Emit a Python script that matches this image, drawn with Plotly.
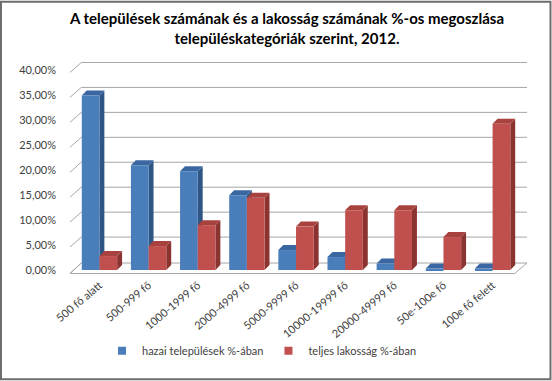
import plotly.graph_objects as go

categories = ["500 fő alatt", "500-999 fő", "1000-1999 fő", "2000-4999 fő", "5000-9999 fő",
              "10000-19999 fő", "20000-49999 fő", "50e-100e fő", "100e fő felett"]
telepulesek = [0.350, 0.210, 0.198, 0.150, 0.040, 0.026, 0.013, 0.003, 0.003]
lakossag = [0.028, 0.048, 0.090, 0.145, 0.087, 0.120, 0.120, 0.066, 0.293]
series_names = ["hazai települések %-ában", "teljes lakosság %-ában"]
y_ticks = [0.0, 0.05, 0.10, 0.15, 0.20, 0.25, 0.30, 0.35, 0.40]

W, H = 552, 381
L, R, T, B = 69, 25, 57.5, 105
X_RANGE = [-0.62, 8.70]
Y_RANGE = [-0.012, 0.425]
plot_w = W - L - R
plot_h = H - T - B

def px_to_paper_x(px):
    return (px - L) / plot_w

def px_to_paper_y(py):
    return (H - B - py) / plot_h

BAR_W = 0.36
DX, DY = 0.10, 0.010
colors = {
    0: dict(front="#4a7ebb", top="#3a66a2", side="#2f5584"),
    1: dict(front="#c0504d", top="#a8423f", side="#8a3331"),
}

fig = go.Figure()
idx = list(range(len(categories)))
for s, (vals, off) in enumerate([(telepulesek, -BAR_W), (lakossag, 0.0)]):
    fig.add_trace(go.Bar(
        x=idx, y=vals, name=series_names[s], offset=off, width=BAR_W,
        marker=dict(color=colors[s]["front"], line=dict(width=0)),
        hovertemplate="%{y:.1%}<extra></extra>", showlegend=False,
    ))
# legend entries with small square swatches
for s in range(2):
    fig.add_trace(go.Scatter(
        x=[None], y=[None], mode="markers", name=series_names[s],
        marker=dict(symbol="square", size=8, color=colors[s]["front"]),
        showlegend=True,
    ))

shapes = []
# floor
shapes.append(dict(type="path", xref="x", yref="y", layer="below",
                   path="M -0.60 -0.007 L 8.45 -0.007 L 8.70 0.014 L -0.37 0.014 Z",
                   fillcolor="white", line=dict(color="#a6a6a6", width=1)))
# back wall gridlines + left-wall slants
for v in y_ticks:
    if v == 0:
        continue
    shapes.append(dict(type="path", xref="x", yref="y", layer="below",
                       path=f"M -0.60 {v-0.004} L -0.37 {v+0.016} L 8.70 {v+0.016}",
                       line=dict(color="#a6a6a6", width=1)))
shapes.append(dict(type="line", xref="x", yref="y", layer="below",
                   x0=-0.60, y0=-0.007, x1=-0.37, y1=0.014,
                   line=dict(color="#a6a6a6", width=1)))

# 3D faces derived from the data
for s, (vals, off) in enumerate([(telepulesek, -BAR_W), (lakossag, 0.0)]):
    for i, v in zip(idx, vals):
        x0 = i + off
        x1 = x0 + BAR_W
        shapes.append(dict(type="path", xref="x", yref="y", layer="between",
                           path=f"M {x1} 0 L {x1+DX} {DY} L {x1+DX} {v+DY} L {x1} {v} Z",
                           fillcolor=colors[s]["side"], line=dict(width=0)))
        shapes.append(dict(type="path", xref="x", yref="y", layer="between",
                           path=f"M {x0} {v} L {x0+DX} {v+DY} L {x1+DX} {v+DY} L {x1} {v} Z",
                           fillcolor=colors[s]["top"], line=dict(width=0)))

# outer frame
shapes.append(dict(type="rect", xref="paper", yref="paper", layer="above",
                   x0=px_to_paper_x(1), x1=px_to_paper_x(550.5),
                   y0=px_to_paper_y(379.5), y1=px_to_paper_y(1),
                   line=dict(color="#6e6e6e", width=2), fillcolor="rgba(0,0,0,0)"))

fig.update_layout(
    width=W, height=H,
    margin=dict(l=L, r=R, t=T, b=B, pad=0),
    paper_bgcolor="white", plot_bgcolor="white",
    separators=", ",
    font=dict(family="Lato, 'Open Sans', sans-serif", size=11, color="#404040"),
    barmode="overlay",
    showlegend=True,
    title=dict(
        text="<b>A települések számának és a lakosság számának %-os megoszlása<br>településkategóriák szerint, 2012.</b>",
        x=287 / W, xanchor="center", xref="container",
        y=1 - 24 / H, yanchor="middle", yref="container",
        font=dict(family="Lato, 'Open Sans', sans-serif", size=15, color="#000000"),
    ),
    xaxis=dict(range=X_RANGE, tickmode="array", tickvals=idx, ticktext=categories,
               tickangle=-40, showgrid=False, zeroline=False, showline=False,
               ticks="", tickfont=dict(size=11, color="#404040"), fixedrange=True),
    yaxis=dict(range=Y_RANGE, tickmode="array", tickvals=y_ticks, tickformat=".2%",
               showgrid=False, zeroline=False, showline=False, ticks="",
               ticklabelstandoff=12,
               tickfont=dict(size=11, color="#404040"), fixedrange=True),
    legend=dict(orientation="h", x=px_to_paper_x(262), xanchor="center",
                y=px_to_paper_y(351), yanchor="middle",
                bgcolor="rgba(0,0,0,0)",
                font=dict(size=11, color="#404040"), itemwidth=30,
                traceorder="normal"),
    shapes=shapes,
)

fig.write_html("out.html")
